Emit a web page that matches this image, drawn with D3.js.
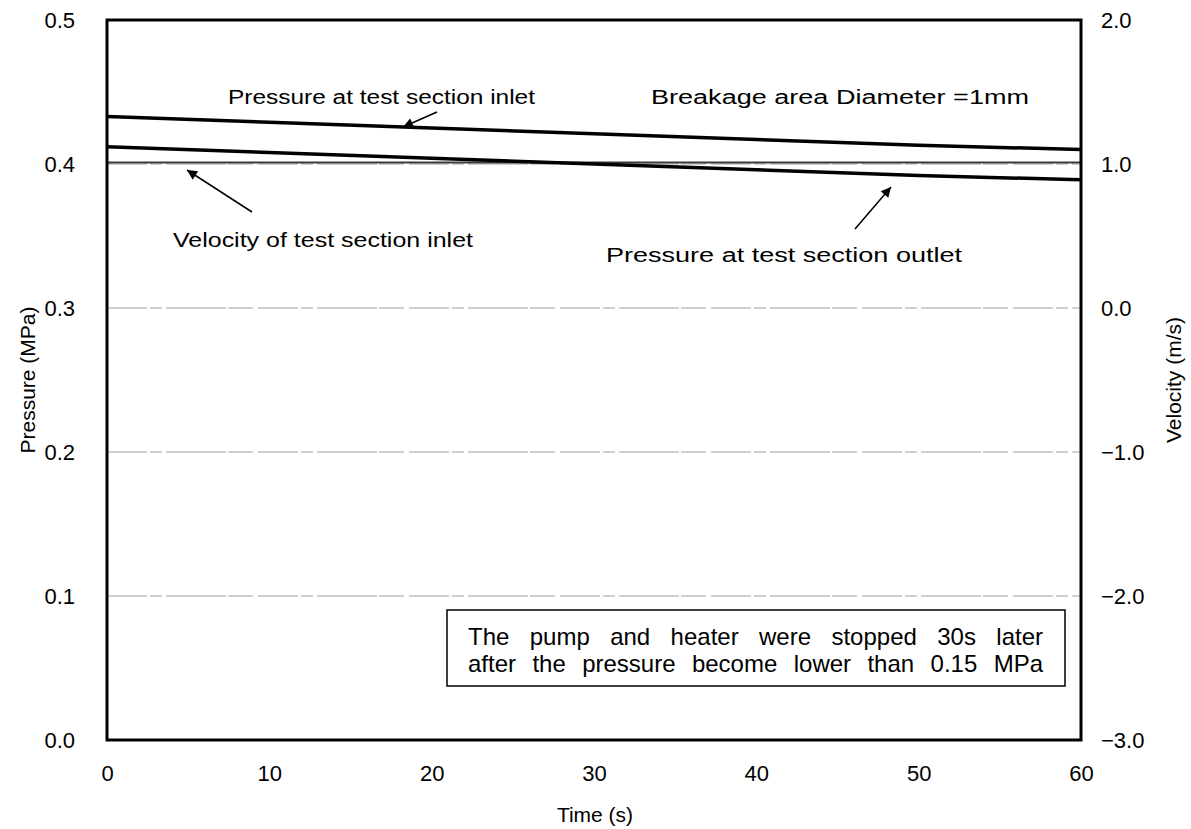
<!DOCTYPE html>
<html>
<head>
<meta charset="utf-8">
<script src="https://cdn.jsdelivr.net/npm/d3@7"></script>
<style>
  body { margin: 0; background: #fff; }
  text { font-family: "Liberation Sans", Arial, sans-serif; fill: #000; }
</style>
</head>
<body>
<div id="chart"></div>
<script>
const time = [0, 10, 20, 30, 40, 50, 60]
const pressureInlet = [0.433, 0.429, 0.425, 0.421, 0.417, 0.413, 0.410]
const pressureOutlet = [0.412, 0.408, 0.404, 0.400, 0.396, 0.392, 0.389]
const velocityInlet = [1.01, 1.01, 1.01, 1.01, 1.01, 1.01, 1.01]
const pressureTicks = [0.0, 0.1, 0.2, 0.3, 0.4, 0.5]
const velocityTicks = [-3.0, -2.0, -1.0, 0.0, 1.0, 2.0]
const timeTicks = [0, 10, 20, 30, 40, 50, 60]

const margin = { top: 20, left: 107, right: 110, bottom: 89 }
const W = 1191, H = 829
const width = W - margin.left - margin.right
const height = H - margin.top - margin.bottom

const svg = d3.select('#chart').append('svg')
    .attr('width', W).attr('height', H)
const g = svg.append('g')
    .attr('transform', `translate(${margin.left}, ${margin.top})`)

let x = d3.scaleLinear().domain([0, 60]).range([0, width])
let yP = d3.scaleLinear().domain([0, 0.5]).range([height, 0])
let yV = d3.scaleLinear().domain([-3, 2]).range([height, 0])

// gridlines (faint, broken like the scan)
g.selectAll('.grid')
    .data(pressureTicks.filter(d => d > 0 && d < 0.5))
    .enter().append('line')
    .attr('x1', 0).attr('x2', width)
    .attr('y1', d => yP(d)).attr('y2', d => yP(d))
    .attr('stroke', '#a0a0a0')
    .attr('stroke-width', 1)
    .attr('stroke-dasharray', '40,3,12,4,60,2,25,5')

// axes - labels only, no tick marks
let leftAxis = d3.axisLeft(yP).tickValues(pressureTicks).tickFormat(d3.format('.1f')).tickSize(0).tickPadding(32)
let rightAxis = d3.axisRight(yV).tickValues(velocityTicks).tickFormat(d => d < 0 ? '\u2212' + d3.format('.1f')(-d) : d3.format('.1f')(d)).tickSize(0).tickPadding(20)
let bottomAxis = d3.axisBottom(x).tickValues(timeTicks).tickSize(0).tickPadding(25)

function styleAxis(sel) {
    sel.select('.domain').remove()
    sel.selectAll('text').style('font-size', '22px').style('font-family', '"Liberation Sans", Arial, sans-serif')
}
g.append('g').call(leftAxis).call(styleAxis)
g.append('g').attr('transform', `translate(${width},0)`).call(rightAxis).call(styleAxis)
g.append('g').attr('transform', `translate(0,${height})`).call(bottomAxis).call(styleAxis)

// series
let lineP = d3.line().x((d, i) => x(time[i])).y(d => yP(d))
let lineV = d3.line().x((d, i) => x(time[i])).y(d => yV(d))

g.append('path').datum(velocityInlet).attr('d', lineV)
    .attr('fill', 'none').attr('stroke', '#3a3a3a').attr('stroke-width', 2)
g.append('path').datum(pressureInlet).attr('d', lineP)
    .attr('fill', 'none').attr('stroke', '#000').attr('stroke-width', 3.5)
g.append('path').datum(pressureOutlet).attr('d', lineP)
    .attr('fill', 'none').attr('stroke', '#000').attr('stroke-width', 3.5)

// frame
g.append('rect').attr('width', width).attr('height', height)
    .attr('fill', 'none').attr('stroke', '#000').attr('stroke-width', 3)

// axis titles
svg.append('text').attr('x', 595).attr('y', 822)
    .attr('text-anchor', 'middle').style('font-size', '21px')
    .text('Time (s)')
svg.append('text').attr('transform', 'translate(35,380) rotate(-90)')
    .attr('text-anchor', 'middle').style('font-size', '21px')
    .text('Pressure (MPa)')
svg.append('text').attr('transform', 'translate(1181,380) rotate(-90)')
    .attr('text-anchor', 'middle').style('font-size', '21px')
    .text('Velocity (m/s)')

// annotations
svg.append('defs').append('marker')
    .attr('id', 'arrow').attr('viewBox', '0 0 10 10')
    .attr('refX', 10).attr('refY', 5)
    .attr('markerWidth', 14).attr('markerHeight', 10)
    .attr('markerUnits', 'userSpaceOnUse')
    .attr('orient', 'auto')
    .append('path').attr('d', 'M0,0 L10,5 L0,10 z').attr('fill', '#000')

const notes = [
    { text: 'Pressure at test section inlet', x: 228, y: 104, len: 307, from: [437, 112], to: [403, 127] },
    { text: 'Breakage area Diameter =1mm', x: 651, y: 104, len: 378 },
    { text: 'Velocity of test section inlet', x: 173, y: 247, len: 300, from: [252, 212], to: [187, 170] },
    { text: 'Pressure at test section outlet', x: 606, y: 262, len: 356, from: [855, 229], to: [891, 187] }
]
notes.forEach(n => {
    svg.append('text').attr('x', n.x).attr('y', n.y)
        .attr('textLength', n.len).attr('lengthAdjust', 'spacingAndGlyphs')
        .style('font-size', '20px')
        .text(n.text)
    if (n.from) {
        svg.append('line')
            .attr('x1', n.from[0]).attr('y1', n.from[1])
            .attr('x2', n.to[0]).attr('y2', n.to[1])
            .attr('stroke', '#000').attr('stroke-width', 1.5)
            .attr('marker-end', 'url(#arrow)')
    }
})

// boxed note, justified by widening the word gaps
svg.append('rect').attr('x', 447).attr('y', 610).attr('width', 618).attr('height', 76)
    .attr('fill', '#fff').attr('stroke', '#000').attr('stroke-width', 1.5)
const boxLines = ['The pump and heater were stopped 30s later', 'after the pressure become lower than 0.15 MPa']
boxLines.forEach((s, i) => {
    let t = svg.append('text').attr('x', 468).attr('y', 645 + i * 27)
        .style('font-size', '24px')
        .text(s)
    let natural = t.node().getComputedTextLength()
    let gaps = s.split(' ').length - 1
    t.style('word-spacing', Math.max(0, (575 - natural) / gaps) + 'px')
})
</script>
</body>
</html>
